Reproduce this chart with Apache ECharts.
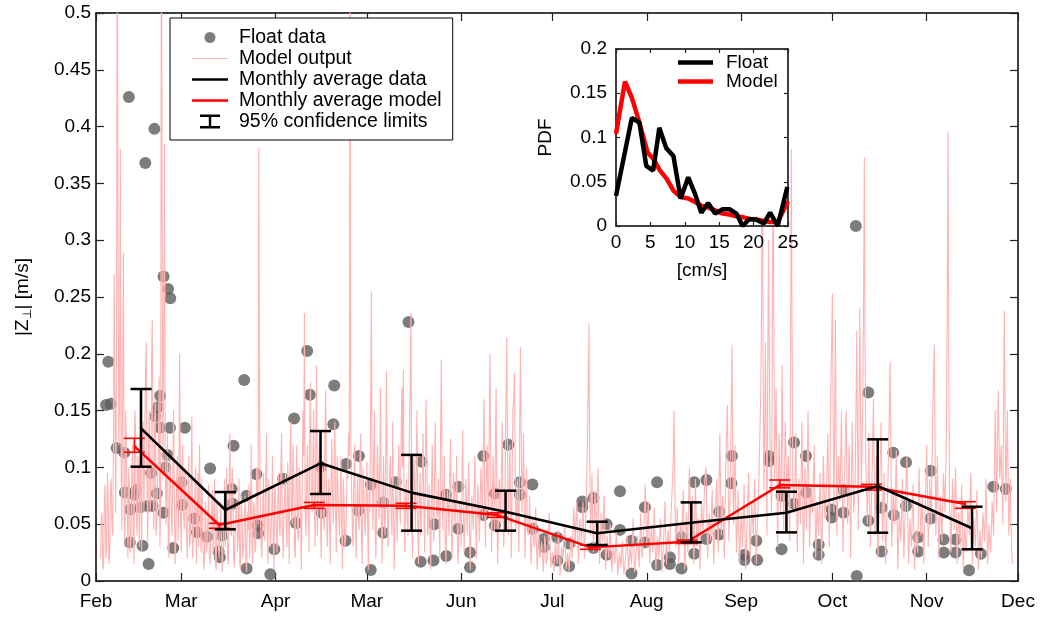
<!DOCTYPE html>
<html>
<head>
<meta charset="utf-8">
<script src="https://cdn.jsdelivr.net/npm/echarts@6/dist/echarts.min.js"></script>
<style>
  html, body { margin: 0; padding: 0; background: #fff; }
  #chart { width: 1043px; height: 617px; }
</style>
</head>
<body>
<div id="chart"></div>
<script>
// ---- axis ticks: days counted from 1 February ----
const monthStarts = [0, 28, 59, 89, 120, 150, 181, 212, 242, 273, 303];
const monthLabels = ['Feb', 'Mar', 'Apr', 'Mar', 'Jun', 'Jul', 'Aug', 'Sep', 'Oct', 'Nov', 'Dec'];

// ---- float observations: [day, |Z| in m/s] ----
const floatObs = [
  [3.3,0.155],[4.05,0.193],[4.9,0.156],[6.8,0.117],[9.3,0.113],[9.5,0.078],[10.8,0.426],[11.1,0.034],
  [11.3,0.063],[12.6,0.076],[13.1,0.080],[14.6,0.065],[15.3,0.031],[16.2,0.368],[17.0,0.066],[17.3,0.015],
  [18.1,0.095],[18.6,0.066],[19.2,0.398],[19.5,0.145],[20.0,0.077],[20.3,0.153],[21.0,0.135],[21.1,0.163],
  [22.2,0.268],[22.2,0.060],[22.8,0.100],[23.5,0.111],[23.7,0.257],[24.3,0.135],[24.4,0.249],[25.4,0.029],
  [28.1,0.087],[28.3,0.067],[29.2,0.135],[32.3,0.055],[33.2,0.043],[36.5,0.039],[37.5,0.099],[40.3,0.026],
  [40.7,0.021],[41.4,0.040],[44.6,0.081],[44.9,0.068],[45.2,0.119],[48.7,0.177],[49.5,0.075],[49.5,0.011],
  [52.7,0.094],[53.1,0.049],[53.3,0.042],[57.3,0.006],[58.6,0.028],[61.5,0.090],[65.1,0.143],[65.7,0.051],
  [69.4,0.2025],[70.3,0.164],[73.9,0.1006],[74.2,0.060],[78.0,0.138],[78.3,0.172],[82.0,0.0355],[82.2,0.103],
  [86.2,0.062],[86.4,0.110],[90.3,0.0097],[90.3,0.085],[94.4,0.069],[94.4,0.0425],[98.5,0.087],[102.7,0.228],
  [106.7,0.017],[107.0,0.105],[110.9,0.018],[111.2,0.050],[115.0,0.076],[115.1,0.022],[119.1,0.083],[119.1,0.046],
  [122.9,0.025],[122.9,0.012],[127.3,0.110],[127.3,0.058],[131.1,0.077],[131.1,0.049],[135.5,0.120],[139.3,0.087],
  [139.3,0.076],[143.4,0.085],[143.5,0.046],[147.2,0.037],[147.2,0.030],[151.6,0.038],[151.6,0.018],[155.5,0.033],
  [155.5,0.013],[159.8,0.070],[159.8,0.065],[163.5,0.073],[163.5,0.029],[167.8,0.050],[167.8,0.023],[172.2,0.079],
  [172.2,0.045],[176.0,0.0355],[176.0,0.0065],[180.4,0.065],[180.4,0.034],[184.4,0.087],[184.4,0.014],[188.6,0.021],
  [188.6,0.015],[192.4,0.011],[192.4,0.0385],[196.6,0.087],[196.6,0.024],[200.6,0.089],[200.6,0.037],[204.8,0.061],
  [204.8,0.041],[208.8,0.086],[209.0,0.110],[213.1,0.023],[213.1,0.0185],[217.0,0.0355],[217.3,0.0185],[221.2,0.110],
  [221.2,0.1056],[225.3,0.075],[225.3,0.028],[229.4,0.122],[229.4,0.068],[233.3,0.110],[233.4,0.078],[237.5,0.032],
  [237.5,0.023],[241.8,0.063],[241.8,0.056],[245.6,0.080],[245.6,0.060],[249.7,0.3125],[250.0,0.0044],[253.8,0.166],
  [253.8,0.053],[258.2,0.0645],[258.2,0.026],[262.0,0.113],[262.2,0.058],[266.2,0.1045],[266.2,0.066],[270.2,0.0385],
  [270.2,0.026],[274.3,0.097],[274.3,0.055],[278.5,0.0365],[278.6,0.025],[282.5,0.0365],[282.5,0.025],[286.9,0.0095],
  [290.8,0.024],[294.9,0.083],[299.0,0.081]
];

// ---- model output in mm/s: values on the half day from day 1.5 ... ----
const modelStartDay = 1.5;
const modelStepDays = 0.5;
const modelFeb = [20,60,15,85,30,70,25,90,40,270,60,620,120,380,45,290,30,110,20,80,35,120,15,133,40,95,170,25,140,60,210,35,150,70,230,45,160,55,120,30,640,90,385,50,130,20,95,40,150,15,85,35,200,25];
const modelMar = [120,45,90,20,110,35,145,40,75,15,95,120,25,60,10,70,30,85,15,60,25,90,10,45,20,70,8,55,30,100,15,130,40,85,12,60,25,90,10,50,30,75,8,45,20,120,15,65,30,90,382,60,20,95,35,130,15,80,40,110,10,70];
const modelApr = [25,95,40,130,20,75,45,105,15,140,50,85,20,120,35,90,10,150,236,40,120,25,175,60,150,30,190,70,130,20,100,45,168,30,90,15,125,50,140,25,80,40,110,10,70,35,95,130,560,80,30,120,20,95,45,130,15,80,40,105,10];
const modelMay = [60,255,45,150,20,120,55,170,15,110,40,185,30,95,60,140,10,85,35,120,50,170,186,25,90,40,130,236,20,110,45,150,15,95,60,130,25,160,40,85,10,120,35,140,55,90,20,195,45,110,15,80,40,125,20,95,50,110,15,70,30];
const modelJun = [133,25,90,40,105,10,75,45,110,20,85,35,100,55,160,30,120,60,200,25,110,45,170,15,90,50,140,30,100,214,40,120,20,150,183,45,90,25,206,60,130,20,100,40,75,15,55,30,65,10,45,20,35,8,40,15,30,60,12,25,8];
const modelJul = [35,15,45,5,30,20,50,10,25,8,40,20,65,30,70,15,55,35,70,20,60,120,227,40,95,25,80,45,100,15,60,35,75,10,40,20,50,8,30,15,45,5,25,12,35,6,20,40,10,30,15,55,8,25,40,12,60,20,45,85,30,70];
const modelAug = [15,50,25,65,10,40,20,55,8,35,70,15,45,25,60,90,150,30,65,15,50,35,80,10,60,25,100,40,75,15,90,30,55,10,70,45,85,100,20,60,35,80,15,55,90,25,130,40,75,20,110,155,35,90,208,50,120,25,80,15,60];
const modelSep = [30,85,10,55,95,20,70,40,90,15,60,110,170,450,80,210,40,300,120,60,420,90,170,30,130,60,190,45,140,80,110,35,380,90,60,130,25,90,50,140,15,100,45,150,30,85,60,120,20,70,40,95,15,110,55,80,130,30,170,253,60];
const modelOct = [230,40,110,70,150,25,95,150,50,120,20,140,60,90,220,45,240,80,160,373,100,50,130,30,90,160,40,110,20,75,140,35,95,15,60,120,193,30,80,50,115,10,60,35,90,20,70,110,15,55,30,85,10,45,25,100,40,75,15,60,120];
const modelNov = [30,90,50,150,208,40,110,20,75,35,95,60,130,396,70,25,90,45,100,15,60,30,85,10,50,25,70,40,95,15,55,30,80,10,45,20,60,35,90,15,50,25,70,40,150,60,168,90,120,50,238,70,150,40,90,20];

// ---- ... and the values a quarter day later, in mm/s ----
const modelFebQ = [55,10,70,20,95,15,80,50,120,150,200,300,160,110,180,60,150,70,100,25,90,40,150,60,110,30,80,120,60,180,90,120,60,190,80,140,40,90,180,70,300,200,110,90,40,110,60,100,70,40,110,90,60,100];
const modelMarQ = [60,100,40,75,30,90,20,60,100,50,30,70,90,20,40,25,55,20,40,80,50,15,70,30,45,35,25,90,60,20,70,45,100,20,50,70,40,15,75,20,55,20,60,85,50,35,70,25,100,50,150,35,60,45,80,50,90,30,60,35,85,45];
const modelAprQ = [70,45,100,50,60,95,30,70,110,60,120,30,90,45,100,55,80,110,60,90,60,140,80,100,70,120,40,110,60,90,55,130,70,60,50,90,70,100,55,110,60,75,45,90,30,55,90,110,120,45,90,50,70,55,110,40,100,60,70,55,80];
const modelMayQ = [150,90,110,45,80,90,100,60,70,55,110,70,60,110,40,70,50,65,90,80,120,100,60,70,55,90,170,60,85,70,110,50,70,40,95,60,90,110,50,40,80,60,95,80,60,50,130,90,70,40,55,65,90,60,50,80,70,40,45,60,90];
const modelJunQ = [60,55,70,75,45,50,60,80,55,65,60,70,80,110,70,90,80,140,90,70,80,120,60,50,75,100,70,60,160,110,80,70,90,160,100,60,55,140,120,90,60,70,55,50,35,40,40,35,30,30,25,30,20,25,30,20,45,30,20,15,25];
const modelJulQ = [25,30,20,15,25,35,30,15,18,25,30,45,50,55,40,35,45,50,45,40,90,170,110,60,50,55,60,70,50,35,45,55,40,25,30,35,25,20,25,30,20,15,20,25,18,12,30,25,20,22,35,30,15,30,25,35,40,30,60,55,50,40];
const modelAugQ = [35,40,45,30,25,30,40,30,20,50,40,30,35,45,75,110,80,45,40,35,45,60,40,35,45,70,65,55,45,60,55,40,35,45,55,60,95,55,40,50,60,45,35,75,55,80,85,60,45,65,130,90,60,150,120,80,60,50,45,40,50];
const modelSepQ = [55,45,30,75,50,45,55,65,50,40,80,140,250,200,130,120,180,200,90,200,250,130,100,80,90,110,100,90,110,95,70,200,220,70,95,70,60,70,95,80,60,70,100,90,60,70,90,70,45,55,70,50,60,85,65,100,80,100,210,150,130];
const modelOctQ = [120,80,90,110,80,60,120,100,85,70,80,100,75,150,130,140,160,120,250,200,80,90,70,60,120,100,75,60,50,110,90,60,55,40,90,150,110,55,65,80,60,35,45,60,55,45,90,60,35,40,60,45,30,35,60,70,55,45,40,90,80];
const modelNovQ = [60,70,100,180,120,75,60,50,55,65,80,95,250,200,45,60,70,75,55,40,45,55,50,30,35,45,55,70,55,35,40,55,45,25,30,40,50,60,50,30,35,45,55,95,110,120,130,105,85,150,150,110,95,65,50,15];

// ---- monthly averages of the float data with 95% limits (m/s) ----
const dataDays = [14.8, 42.5, 73.8, 103.7, 134.6, 164.7, 195.6, 226.9, 256.9, 287.9];
const dataMean = [0.1344, 0.0625, 0.1036, 0.0778, 0.0610, 0.0420, 0.0513, 0.0601, 0.0836, 0.0464];
const dataLow  = [0.1006, 0.0455, 0.0766, 0.0443, 0.0443, 0.0317, 0.0340, 0.0428, 0.0425, 0.0279];
const dataHigh = [0.1690, 0.0783, 0.1320, 0.1110, 0.0795, 0.0522, 0.0692, 0.0786, 0.1247, 0.0654];

// ---- monthly averages of the model with 95% limits (m/s) ----
const modelDays = [12.6, 40.5, 71.7, 101.9, 131.9, 162.5, 194.3, 224.7, 254.8, 285.7];
const modelMean = [0.1188, 0.0493, 0.0669, 0.0663, 0.0580, 0.0296, 0.0346, 0.0845, 0.0830, 0.0678];
const modelLow  = [0.1133, 0.0464, 0.0640, 0.0640, 0.0560, 0.0279, 0.0330, 0.0820, 0.0800, 0.0640];
const modelHigh = [0.1256, 0.0508, 0.0692, 0.0684, 0.0600, 0.0317, 0.0360, 0.0889, 0.0851, 0.0698];

// ---- inset: speed PDFs (speed in cm/s) ----
const pdfFloatSpeed = [0, 2.3, 3.4, 4.4, 5.4, 6.3, 7.3, 8.35, 9.4, 10.5, 11.5, 12.4, 13.4, 14.4, 15.5, 16.5, 17.5, 18.4, 19.4, 20.4, 21.5, 22.4, 23.5, 24.9];
const pdfFloat      = [0.034, 0.122, 0.117, 0.068, 0.0625, 0.111, 0.088, 0.079, 0.031, 0.055, 0.036, 0.015, 0.026, 0.014, 0.019, 0.019, 0.014, 0.0, 0.008, 0.007, 0.003, 0.015, 0.0, 0.044];
const pdfModelSpeed = [0, 1.3, 2.3, 3.4, 4.6, 5.4, 6.4, 7.4, 8.35, 9.4, 10.5, 11.5, 12.4, 13.4, 14.4, 15.5, 16.5, 17.5, 18.4, 19.4, 20.4, 21.5, 22.4, 23.5, 25];
const pdfModel      = [0.104, 0.163, 0.145, 0.117, 0.083, 0.076, 0.0625, 0.053, 0.040, 0.0326, 0.031, 0.027, 0.023, 0.021, 0.0176, 0.014, 0.013, 0.011, 0.010, 0.008, 0.0075, 0.0056, 0.0045, 0.0045, 0.028];

// ---- build series data ----
const modelHalf = [].concat(modelFeb, modelMar, modelApr, modelMay, modelJun, modelJul, modelAug, modelSep, modelOct, modelNov);
const modelQuarter = [].concat(modelFebQ, modelMarQ, modelAprQ, modelMayQ, modelJunQ, modelJulQ, modelAugQ, modelSepQ, modelOctQ, modelNovQ);
const modelSeries = [];
modelHalf.forEach((v, i) => {
  const day = modelStartDay + i * modelStepDays;
  modelSeries.push([day, v / 1000]);
  if (i < modelQuarter.length) modelSeries.push([day + modelStepDays / 2, modelQuarter[i] / 1000]);
});
const zip = (a, b) => a.map((v, i) => [v, b[i]]);
const zip3 = (a, b, c) => a.map((v, i) => [v, b[i], c[i]]);

const FONT = '"Liberation Sans", Arial, Helvetica, sans-serif';
const PINK = '#ffb3b3';
const RED = '#ff0000';
const DOT = '#5c5c5c';

// legend glyphs: filled bars standing in for line samples, a dot and an error bar
const lineIcon = (h) => 'path://M0,0H36V' + h + 'H0Z';
const dotIcon = 'path://M0,0M14,14M1.5,7A5.5,5.5,0,1,1,12.5,7A5.5,5.5,0,1,1,1.5,7Z';
const barIcon = 'path://M0,0H20V2.4H11.2V11.6H20V14H0V11.6H8.8V2.4H0Z';

function errorBars(color, width, halfCap) {
  return function (params, api) {
    const x = api.value(0);
    const pLo = api.coord([x, api.value(1)]);
    const pHi = api.coord([x, api.value(2)]);
    const style = { stroke: color, lineWidth: width, fill: null };
    return {
      type: 'group',
      children: [
        { type: 'line', shape: { x1: pLo[0], y1: pLo[1], x2: pHi[0], y2: pHi[1] }, style },
        { type: 'line', shape: { x1: pLo[0] - halfCap, y1: pLo[1], x2: pLo[0] + halfCap, y2: pLo[1] }, style },
        { type: 'line', shape: { x1: pHi[0] - halfCap, y1: pHi[1], x2: pHi[0] + halfCap, y2: pHi[1] }, style }
      ]
    };
  };
}

// frame lines stay on their own side of the grid (no snapping to zero)
const axisLine = { show: true, onZero: false, lineStyle: { color: '#000', width: 1.5 } };
// ticks pointing into the plotting area
const tickIn = (len) => ({ show: true, inside: true, length: len, lineStyle: { color: '#222', width: 1.2 } });
const labelText = { fontFamily: FONT, fontSize: 19, color: '#000' };

const option = {
  animation: false,
  backgroundColor: '#fff',
  grid: [
    { left: 96, right: 25, top: 13, bottom: 36 },
    { left: 616, top: 49, width: 172, height: 177, show: true, backgroundColor: '#fff', borderWidth: 0, z: 10 }
  ],
  xAxis: [
    {
      type: 'value', gridIndex: 0, min: 0, max: 303, position: 'bottom',
      axisLine, splitLine: { show: false },
      axisTick: Object.assign(tickIn(8), { customValues: monthStarts }),
      axisLabel: Object.assign({ margin: 11, customValues: monthStarts,
        formatter: (v) => monthLabels[monthStarts.indexOf(v)] }, labelText)
    },
    {
      type: 'value', gridIndex: 0, min: 0, max: 303, position: 'top',
      axisLine, splitLine: { show: false },
      axisTick: Object.assign(tickIn(8), { customValues: monthStarts }),
      axisLabel: { show: false }
    },
    {
      type: 'value', gridIndex: 1, min: 0, max: 25, interval: 5, position: 'bottom', z: 11,
      axisLine, splitLine: { show: false }, axisTick: tickIn(4),
      axisLabel: Object.assign({ margin: 7 }, labelText),
      name: '[cm/s]', nameLocation: 'middle', nameGap: 35, nameTextStyle: labelText
    },
    {
      type: 'value', gridIndex: 1, min: 0, max: 25, interval: 5, position: 'top', z: 11,
      axisLine, splitLine: { show: false }, axisTick: tickIn(4), axisLabel: { show: false }
    }
  ],
  yAxis: [
    {
      type: 'value', gridIndex: 0, min: 0, max: 0.5, interval: 0.05, position: 'left',
      axisLine, splitLine: { show: false }, axisTick: tickIn(8),
      axisLabel: Object.assign({ margin: 5 }, labelText),
      name: '{t||Z}{s|⊥}{t|| [m/s]}', nameLocation: 'middle', nameRotate: 90, nameGap: 62,
      nameTextStyle: {
        rich: {
          t: { fontFamily: FONT, fontSize: 19, color: '#000' },
          s: { fontFamily: FONT, fontSize: 12, color: '#000', verticalAlign: 'bottom', padding: [10, 0, 0, 0] }
        }
      }
    },
    {
      type: 'value', gridIndex: 0, min: 0, max: 0.5, interval: 0.05, position: 'right',
      axisLine, splitLine: { show: false }, axisTick: tickIn(8), axisLabel: { show: false }
    },
    {
      type: 'value', gridIndex: 1, min: 0, max: 0.2, interval: 0.05, position: 'left', z: 11,
      axisLine, splitLine: { show: false }, axisTick: tickIn(4),
      axisLabel: Object.assign({ margin: 9 }, labelText),
      name: 'PDF', nameLocation: 'middle', nameRotate: 90, nameGap: 61, nameTextStyle: labelText
    },
    {
      type: 'value', gridIndex: 1, min: 0, max: 0.2, interval: 0.05, position: 'right', z: 11,
      axisLine, splitLine: { show: false }, axisTick: tickIn(4), axisLabel: { show: false }
    }
  ],
  legend: [
    {
      left: 170, top: 18, orient: 'vertical', selectedMode: false, z: 20,
      backgroundColor: '#fff', borderColor: '#000', borderWidth: 1,
      padding: [9, 11, 8, 22], itemWidth: 36, itemHeight: 14, itemGap: 0,
      textStyle: { fontFamily: FONT, fontSize: 19.5, lineHeight: 21, color: '#000', padding: [0, 0, 0, 6] },
      data: [
        { name: 'Float data', icon: dotIcon },
        { name: 'Model output', icon: lineIcon(1.2) },
        { name: 'Monthly average data', icon: lineIcon(2.5) },
        { name: 'Monthly average model', icon: lineIcon(2.5) },
        { name: '95% confidence limits', icon: barIcon }
      ]
    },
    {
      left: 678, top: 53, orient: 'vertical', selectedMode: false, z: 20,
      padding: 0, itemWidth: 35, itemHeight: 10, itemGap: 0,
      textStyle: { fontFamily: FONT, fontSize: 19, lineHeight: 19, color: '#000', padding: [0, 0, 0, 8] },
      data: [
        { name: 'Float', icon: 'path://M0,0H35V4.5H0Z' },
        { name: 'Model', icon: 'path://M0,0H35V4.5H0Z' }
      ]
    }
  ],
  series: [
    {
      name: 'Float data', type: 'scatter', xAxisIndex: 0, yAxisIndex: 0,
      data: floatObs, symbol: 'circle', symbolSize: 12,
      itemStyle: { color: DOT }, z: 2, silent: true
    },
    {
      name: 'Model output', type: 'line', xAxisIndex: 0, yAxisIndex: 0,
      data: modelSeries, showSymbol: false, symbol: 'none',
      lineStyle: { color: PINK, width: 1.1 }, itemStyle: { color: PINK }, z: 3, silent: true
    },
    {
      name: 'Monthly average model', type: 'line', xAxisIndex: 0, yAxisIndex: 0,
      data: zip(modelDays, modelMean), symbol: 'none',
      lineStyle: { color: RED, width: 2.5 }, itemStyle: { color: RED }, z: 4, silent: true
    },
    {
      name: 'model limits', type: 'custom', xAxisIndex: 0, yAxisIndex: 0,
      data: zip3(modelDays, modelLow, modelHigh), encode: { x: 0, y: [1, 2] },
      renderItem: errorBars(RED, 1.6, 10.5), z: 4, silent: true
    },
    {
      name: 'Monthly average data', type: 'line', xAxisIndex: 0, yAxisIndex: 0,
      data: zip(dataDays, dataMean), symbol: 'none',
      lineStyle: { color: '#000', width: 2.6 }, itemStyle: { color: '#000' }, z: 5, silent: true
    },
    {
      name: '95% confidence limits', type: 'custom', xAxisIndex: 0, yAxisIndex: 0,
      data: zip3(dataDays, dataLow, dataHigh), encode: { x: 0, y: [1, 2] },
      renderItem: errorBars('#000', 2.5, 10.5), itemStyle: { color: '#000' }, z: 6, silent: true
    },
    {
      name: 'Model', type: 'line', xAxisIndex: 2, yAxisIndex: 2,
      data: zip(pdfModelSpeed, pdfModel), symbol: 'none',
      lineStyle: { color: RED, width: 4.5 }, itemStyle: { color: RED }, z: 12, silent: true
    },
    {
      name: 'Float', type: 'line', xAxisIndex: 2, yAxisIndex: 2,
      data: zip(pdfFloatSpeed, pdfFloat), symbol: 'none',
      lineStyle: { color: '#000', width: 4.5 }, itemStyle: { color: '#000' }, z: 13, silent: true
    }
  ]
};

const chart = echarts.init(document.getElementById('chart'), null, { renderer: 'canvas' });
chart.setOption(option);
</script>
</body>
</html>
